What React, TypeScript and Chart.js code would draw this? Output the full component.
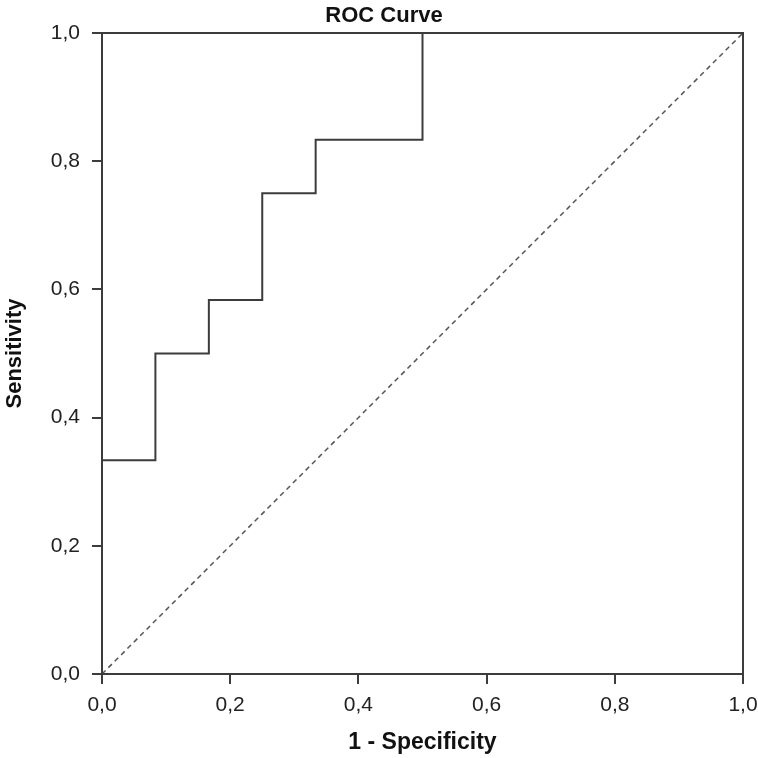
import React, { useEffect, useRef } from "react";
import { Chart, registerables } from "chart.js";

Chart.register(...registerables);

// ROC operating points (1 - specificity, sensitivity)
const fprValues = [0, 0, 0.0833, 0.1667, 0.25, 0.3333, 0.5, 1];
const tprValues = [0, 0.3333, 0.5, 0.5833, 0.75, 0.8333, 1, 1];
// Reference diagonal
const diagX = [0, 1];
const diagY = [0, 1];
const tickValues = [0, 0.2, 0.4, 0.6, 0.8, 1.0];
const chartTitle = "ROC Curve";

const LINE = "#3c3c3c";
const FONT = "'Liberation Sans', Arial, Helvetica, sans-serif";

const framePlugin = {
  id: "frame",
  afterDatasetsDraw(chart: any) {
    const { ctx, chartArea } = chart;
    ctx.save();
    ctx.strokeStyle = LINE;
    ctx.lineWidth = 2;
    ctx.strokeRect(chartArea.left, chartArea.top, chartArea.right - chartArea.left, chartArea.bottom - chartArea.top);
    ctx.restore();
  },
  afterDraw(chart: any) {
    const { ctx } = chart;
    ctx.save();
    ctx.fillStyle = "#111";
    ctx.font = `bold 22px ${FONT}`;
    ctx.textAlign = "center";
    ctx.textBaseline = "alphabetic";
    ctx.fillText(chartTitle, 384, 22);
    ctx.restore();
  },
};

export default function App() {
  const ref = useRef<HTMLCanvasElement | null>(null);
  useEffect(() => {
    if (!ref.current) return;
    const chart = new Chart(ref.current, {
      type: "scatter",
      data: {
        datasets: [
          {
            label: "Diagonal",
            data: diagX.map((x, i) => ({ x, y: diagY[i] })),
            showLine: true,
            borderColor: "#555",
            borderWidth: 1.5,
            borderDash: [5, 4],
            pointRadius: 0,
            fill: false,
          },
          {
            label: "ROC",
            data: fprValues.map((x, i) => ({ x, y: tprValues[i] })),
            showLine: true,
            stepped: "before",
            borderColor: LINE,
            borderWidth: 2,
            pointRadius: 0,
            fill: false,
          },
        ],
      },
      options: {
        responsive: false,
        animation: false,
        layout: { padding: { left: 0, right: 15, top: 33, bottom: 0 } },
        plugins: {
          legend: { display: false },
          tooltip: { enabled: false },
          title: { display: false },
        },
        scales: {
          x: {
            type: "linear",
            min: 0,
            max: 1,
            afterFit(scale: any) {
              scale.height = 84;
              scale.paddingLeft = 0;
              scale.paddingRight = 0;
            },
            afterBuildTicks(scale: any) {
              scale.ticks = tickValues.map((v) => ({ value: v }));
            },
            grid: {
              drawOnChartArea: false,
              drawTicks: true,
              tickLength: 10,
              color: LINE,
              lineWidth: 2,
            },
            border: { display: true, color: LINE, width: 2 },
            ticks: {
              color: "#222",
              padding: 9,
              maxRotation: 0,
              font: { family: FONT, size: 21 },
              callback: (v: any) => Number(v).toFixed(1).replace(".", ","),
            },
            title: {
              display: true,
              text: "1 - Specificity",
              color: "#111",
              font: { family: FONT, size: 23, weight: "bold", lineHeight: 1.2 },
              padding: { top: 0, bottom: 2 },
            },
          },
          y: {
            type: "linear",
            min: 0,
            max: 1,
            afterFit(scale: any) {
              scale.width = 102;
              scale.paddingTop = 0;
              scale.paddingBottom = 0;
            },
            afterBuildTicks(scale: any) {
              scale.ticks = tickValues.map((v) => ({ value: v }));
            },
            grid: {
              drawOnChartArea: false,
              drawTicks: true,
              tickLength: 10,
              color: LINE,
              lineWidth: 2,
            },
            border: { display: true, color: LINE, width: 2 },
            ticks: {
              color: "#222",
              padding: 12,
              font: { family: FONT, size: 21 },
              callback: (v: any) => Number(v).toFixed(1).replace(".", ","),
            },
            title: {
              display: true,
              text: "Sensitivity",
              color: "#111",
              font: { family: FONT, size: 22, weight: "bold", lineHeight: 1.2 },
              padding: { top: 2, bottom: 0 },
            },
          },
        },
      } as any,
      plugins: [framePlugin],
    });
    return () => chart.destroy();
  }, []);

  return (
    <div style={{ position: "fixed", left: 0, top: 0, width: 758, height: 758, background: "#fff" }}>
      <canvas ref={ref} width={758} height={758} style={{ width: 758, height: 758, display: "block" }} />
    </div>
  );
}
